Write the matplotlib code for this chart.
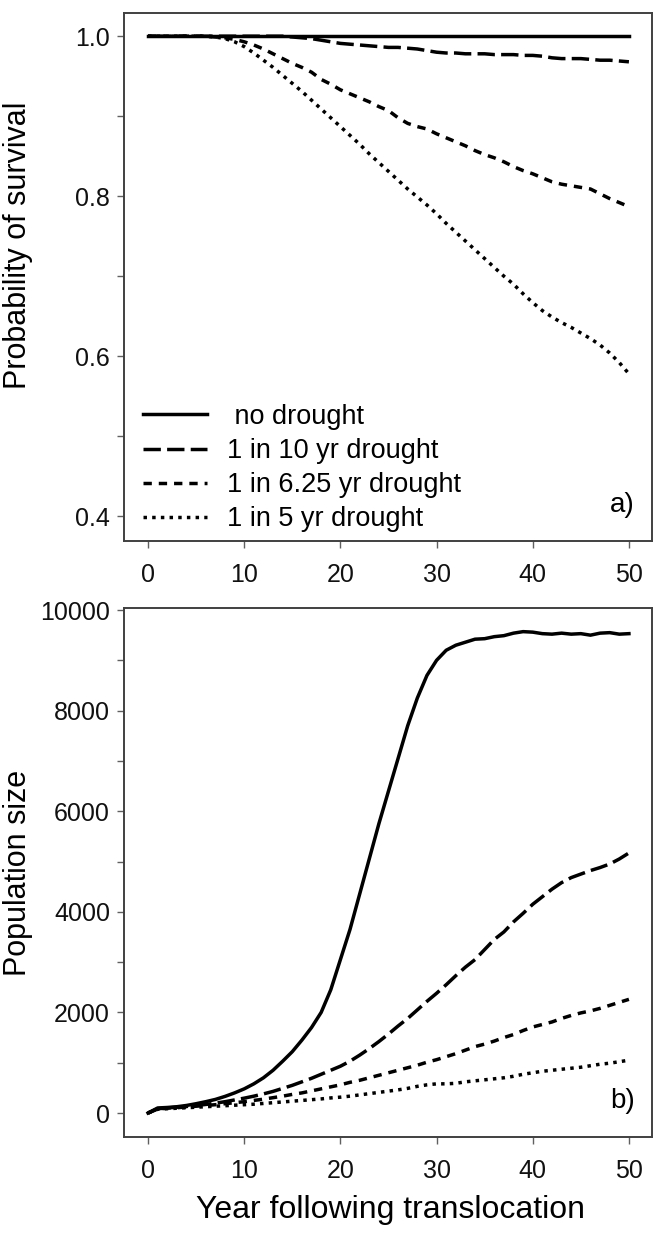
import matplotlib
matplotlib.use("Agg")
import matplotlib.pyplot as plt
import numpy as np

plt.rcParams['font.family'] = ['Liberation Sans', 'DejaVu Sans']

years = list(range(0, 51))

# probability of survival
surv_none = [1.0] * 51
surv_10 = [1.0] * 15 + [0.999, 0.998, 0.997, 0.995, 0.993, 0.991, 0.990, 0.989, 0.988, 0.987,
                        0.986, 0.986, 0.985, 0.984, 0.982, 0.980, 0.979, 0.979, 0.978, 0.978,
                        0.978, 0.977, 0.977, 0.977, 0.976, 0.976, 0.975, 0.973, 0.972, 0.972,
                        0.972, 0.971, 0.970, 0.970, 0.969, 0.968]
surv_625 = [1.0] * 7 + [0.999, 0.998, 0.996, 0.993, 0.989, 0.984, 0.978, 0.972, 0.966, 0.961,
                        0.955, 0.946, 0.940, 0.933, 0.928, 0.923, 0.918, 0.912, 0.907, 0.898,
                        0.891, 0.887, 0.884, 0.878, 0.873, 0.868, 0.863, 0.857, 0.852, 0.848,
                        0.843, 0.837, 0.832, 0.828, 0.823, 0.818, 0.815, 0.813, 0.811, 0.809,
                        0.803, 0.797, 0.792, 0.787]
surv_5 = [1.0] * 7 + [0.999, 0.997, 0.993, 0.987, 0.979, 0.970, 0.961, 0.951, 0.941, 0.931,
                      0.920, 0.909, 0.898, 0.887, 0.876, 0.865, 0.853, 0.842, 0.831, 0.820,
                      0.809, 0.799, 0.789, 0.778, 0.766, 0.755, 0.744, 0.733, 0.722, 0.711,
                      0.700, 0.690, 0.678, 0.667, 0.657, 0.649, 0.642, 0.636, 0.629, 0.622,
                      0.614, 0.604, 0.592, 0.578]

# population size
pop_none = [0, 100, 110, 125, 150, 185, 225, 270, 330, 400,
            480, 580, 700, 850, 1030, 1220, 1450, 1700, 2000, 2450,
            3050, 3650, 4350, 5050, 5750, 6400, 7050, 7700, 8250, 8700,
            9000, 9200, 9300, 9360, 9420, 9430, 9470, 9490, 9540, 9570,
            9560, 9530, 9520, 9540, 9520, 9530, 9500, 9540, 9550, 9520,
            9530]
pop_10 = [0, 85, 100, 115, 130, 150, 170, 195, 225, 260,
          295, 335, 380, 430, 490, 550, 620, 690, 770, 850,
          930, 1030, 1150, 1280, 1420, 1570, 1730, 1880, 2050, 2220,
          2380, 2550, 2730, 2900, 3050, 3250, 3450, 3600, 3800, 3970,
          4150, 4300, 4450, 4580, 4680, 4750, 4820, 4880, 4950, 5050,
          5170]
pop_625 = [0, 80, 95, 105, 120, 135, 150, 165, 185, 205,
           225, 250, 275, 305, 335, 370, 400, 440, 480, 520,
           560, 610, 650, 700, 750, 800, 850, 900, 950, 1010,
           1060, 1120, 1180, 1250, 1320, 1370, 1430, 1500, 1560, 1640,
           1710, 1760, 1810, 1880, 1940, 1990, 2030, 2080, 2140, 2200,
           2260]
pop_5 = [0, 75, 85, 95, 105, 115, 125, 135, 145, 155,
         165, 175, 190, 205, 220, 235, 250, 265, 280, 300,
         315, 335, 360, 385, 410, 435, 460, 490, 530, 560,
         580, 580, 590, 620, 640, 660, 680, 700, 730, 770,
         800, 830, 850, 870, 890, 910, 940, 970, 990, 1020,
         1050]

labels = [' no drought', '1 in 10 yr drought', '1 in 6.25 yr drought', '1 in 5 yr drought']
styles = ['-', (0, (5, 1.8)), (0, (2.4, 2.0)), (0, (1, 1.5))]

W, H = 655, 1235
fig = plt.figure(figsize=(W / 100, H / 100), dpi=100)
ax1 = fig.add_axes([124 / W, 1 - 541 / H, 528 / W, 528 / H])
ax2 = fig.add_axes([124 / W, 1 - 1137 / H, 528 / W, 529 / H])

for ys, ls, lab in zip([surv_none, surv_10, surv_625, surv_5], styles, labels):
    ax1.plot(years, ys, color='black', lw=2.5, linestyle=ls, label=lab)
for ys, ls in zip([pop_none, pop_10, pop_625, pop_5], styles):
    ax2.plot(years, ys, color='black', lw=2.5, linestyle=ls)

ax1.set_xlim(-2.5, 52.4)
ax1.set_ylim(0.369, 1.029)
ax1.set_yticks([0.4, 0.6, 0.8, 1.0])
ax1.set_yticklabels(['0.4', '0.6', '0.8', '1.0'])
ax1.set_yticks([0.5, 0.7, 0.9], minor=True)

ax2.set_xlim(-2.5, 52.4)
ax2.set_ylim(-477, 10040)
ax2.set_yticks([0, 2000, 4000, 6000, 8000, 10000])
ax2.set_yticks([1000, 3000, 5000, 7000, 9000], minor=True)

for ax in (ax1, ax2):
    ax.set_xticks([0, 10, 20, 30, 40, 50])
    for s in ax.spines.values():
        s.set_color('#404040')
        s.set_linewidth(1.4)
    ax.tick_params(which='both', direction='out', length=5, width=1, color='#606060',
                   labelsize=18, labelcolor='#111111', pad=5)
    ax.tick_params(axis='x', pad=11)

ax1.set_ylabel('Probability of survival', fontsize=22)
ax2.set_ylabel('Population size', fontsize=22)
ax1.yaxis.set_label_coords(-0.172, 0.56)
ax2.yaxis.set_label_coords(-0.172, 0.5)
fig.text(391 / W, 1 - 1210 / H, 'Year following translocation', fontsize=23,
         ha='center', va='center')

leg = ax1.legend(loc='lower left', bbox_to_anchor=(0.02, 0.0), frameon=False,
                 fontsize=19.5, handlelength=2.35, handletextpad=0.75, labelspacing=0.3,
                 borderaxespad=0.12, borderpad=0.2)

ax1.text(0.968, 0.068, 'a)', transform=ax1.transAxes, fontsize=20, ha='right', va='center')
ax2.text(0.968, 0.068, 'b)', transform=ax2.transAxes, fontsize=20, ha='right', va='center')

fig.savefig('out.png', dpi=100)
